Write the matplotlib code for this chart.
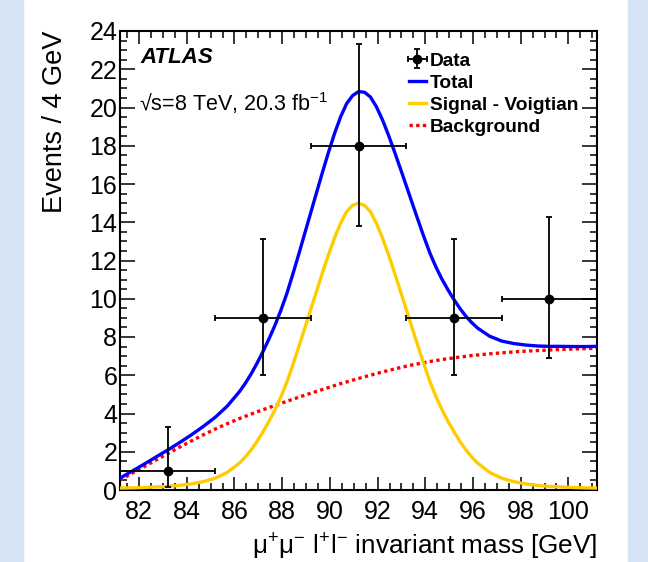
import matplotlib
matplotlib.use("Agg")
import matplotlib.pyplot as plt
from matplotlib.patches import Rectangle
from matplotlib.ticker import MultipleLocator

plt.rcParams['font.family'] = ['Liberation Sans', 'DejaVu Sans']
plt.rcParams['mathtext.fontset'] = 'custom'
plt.rcParams['mathtext.rm'] = 'Liberation Sans'
plt.rcParams['mathtext.default'] = 'regular'

# data points (4 GeV bins)
mass = [83.2, 87.2, 91.2, 95.2, 99.2]
events = [1, 9, 18, 9, 10]
err_low = [0.17, 6.0, 13.8, 6.0, 6.9]
err_high = [3.3, 13.1, 23.3, 13.1, 14.3]
bin_half = [2, 2, 2, 2, 2]

# fitted curves
curve_x = [81.2, 81.7, 82.2, 82.7, 83.2, 83.7, 84.2, 84.7, 85.2, 85.7,
           86.2, 86.45, 86.7, 86.95, 87.2, 87.45, 87.7, 87.95, 88.2, 88.45,
           88.7, 88.95, 89.2, 89.45, 89.7, 89.95, 90.2, 90.45, 90.7, 90.95,
           91.2, 91.45, 91.7, 91.95, 92.2, 92.45, 92.7, 92.95, 93.2, 93.45,
           93.7, 93.95, 94.2, 94.45, 94.7, 94.95, 95.2, 95.45, 95.7, 95.95,
           96.2, 96.7, 97.2, 97.7, 98.2, 98.7, 99.2, 99.7, 100.2, 100.7, 101.2]
signal = [0.10, 0.11, 0.13, 0.16, 0.19, 0.24, 0.32, 0.44, 0.62, 0.92,
          1.40, 1.72, 2.10, 2.55, 3.05, 3.60, 4.20, 4.88, 5.65, 6.55,
          7.50, 8.47, 9.45, 10.43, 11.40, 12.33, 13.20, 13.95, 14.55, 14.88,
          15.00, 14.88, 14.55, 13.95, 13.20, 12.33, 11.40, 10.43, 9.45, 8.47,
          7.50, 6.55, 5.65, 4.88, 4.20, 3.60, 3.05, 2.55, 2.10, 1.72,
          1.40, 0.92, 0.62, 0.44, 0.32, 0.24, 0.19, 0.16, 0.13, 0.11, 0.10]
background = [0.52, 0.87, 1.21, 1.56, 1.90, 2.24, 2.57, 2.89, 3.19, 3.47,
              3.73, 3.85, 3.97, 4.09, 4.20, 4.31, 4.42, 4.53, 4.64, 4.75,
              4.85, 4.96, 5.06, 5.16, 5.26, 5.36, 5.46, 5.56, 5.65, 5.74,
              5.83, 5.92, 6.00, 6.09, 6.17, 6.25, 6.32, 6.40, 6.47, 6.54,
              6.60, 6.66, 6.72, 6.77, 6.82, 6.87, 6.91, 6.95, 6.99, 7.03,
              7.06, 7.12, 7.17, 7.22, 7.26, 7.29, 7.32, 7.35, 7.37, 7.39, 7.41]
total = [s + b for s, b in zip(signal, background)]

fig = plt.figure(figsize=(6.48, 5.62), dpi=100)
band = '#d5e3f4'
fig.patches.append(Rectangle((0, 0), 23 / 648, 1, transform=fig.transFigure, color=band, zorder=0))
fig.patches.append(Rectangle((628 / 648, 0), 20 / 648, 1, transform=fig.transFigure, color=band, zorder=0))

ax = fig.add_axes([120 / 648, 1 - 490 / 562, 477 / 648, 459 / 562])

ax.plot(curve_x, background, color='#ff0000', lw=2.4, ls=(0, (1, 1)), label='Background', zorder=2)
ax.plot(curve_x, signal, color='#ffcc00', lw=2.4, label='Signal - Voigtian', zorder=3)
ax.plot(curve_x, total, color='#0000ff', lw=2.4, label='Total', zorder=4)

yerr = [[e - lo for e, lo in zip(events, err_low)], [hi - e for e, hi in zip(events, err_high)]]
ax.errorbar(mass, events, xerr=bin_half, yerr=yerr, fmt='o', color='black', ms=6,
            elinewidth=1.3, capsize=2.5, capthick=1.3, label='Data', zorder=5)

ax.set_xlim(81.2, 101.2)
ax.set_ylim(0, 24)
ax.xaxis.set_major_locator(MultipleLocator(2))
ax.xaxis.set_minor_locator(MultipleLocator(0.5))
ax.yaxis.set_major_locator(MultipleLocator(2))
ax.yaxis.set_minor_locator(MultipleLocator(0.5))
ax.tick_params(which='both', direction='in', top=True, right=True, width=1.1, labelsize=18)
ax.tick_params(axis='x', which='major', length=9.5, pad=7)
ax.tick_params(axis='x', which='minor', length=4.8)
ax.tick_params(axis='y', which='major', length=10.5, pad=2)
ax.tick_params(axis='y', which='minor', length=5.3)
for s in ax.spines.values():
    s.set_linewidth(1.5)

ax.text(1.0, -0.157, 'μ$^{+}$μ$^{-}$ l$^{+}$l$^{-}$ invariant mass [GeV]', transform=ax.transAxes,
        ha='right', va='bottom', fontsize=18.8)
ax.text(-0.136, 1.0, 'Events / 4 GeV', transform=ax.transAxes, rotation=90,
        ha='center', va='top', fontsize=19.5)

ax.text(0.042, 0.930, 'ATLAS', transform=ax.transAxes, fontsize=16,
        fontweight='bold', fontstyle='italic', va='baseline')
ax.text(0.040, 0.826, '√s=8 TeV, 20.3 fb$^{-1}$', transform=ax.transAxes, fontsize=15.5,
        va='baseline')

h, l = ax.get_legend_handles_labels()
order = [l.index(n) for n in ['Data', 'Total', 'Signal - Voigtian', 'Background']]
ax.legend([h[i] for i in order], [l[i] for i in order], loc='upper left',
          bbox_to_anchor=(0.605, 0.954), frameon=False, prop={'weight': 'bold', 'size': 13.8},
          handlelength=0.9, handletextpad=0.2, labelspacing=0.25, borderpad=0, borderaxespad=0)

fig.savefig('out.png', dpi=100)
